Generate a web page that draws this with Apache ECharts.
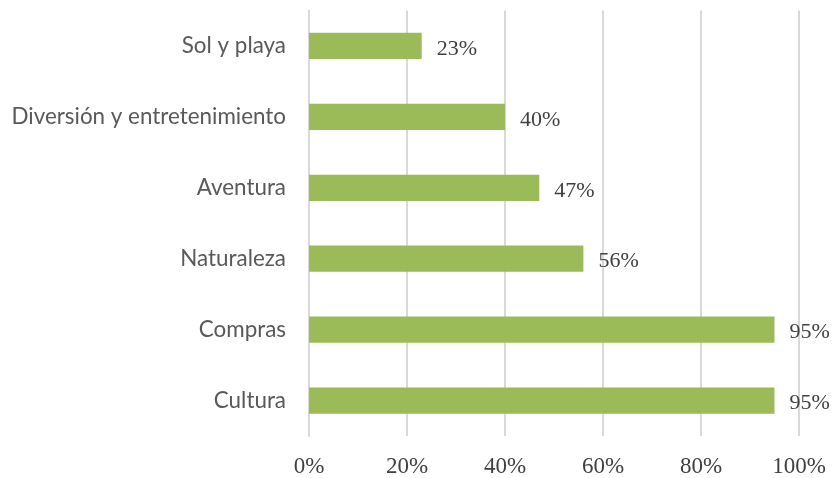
<!DOCTYPE html>
<html>
<head>
<meta charset="utf-8">
<script src="https://cdn.jsdelivr.net/npm/echarts@6/dist/echarts.min.js"></script>
<style>html,body{margin:0;padding:0;background:#fff}#c{width:832px;height:478px}</style>
</head>
<body>
<div id="c"></div>
<script>
const categories = ["Cultura", "Compras", "Naturaleza", "Aventura", "Diversión y entretenimiento", "Sol y playa"];
const values = [95, 95, 56, 47, 40, 23];
const xTicks = [0, 20, 40, 60, 80, 100];

const chart = echarts.init(document.getElementById('c'), null, {renderer: 'canvas'});
chart.setOption({
  animation: false,
  backgroundColor: '#ffffff',
  grid: {left: 309, right: 33, top: 10.5, bottom: 41.5, containLabel: false},
  xAxis: {
    type: 'value', min: xTicks[0], max: xTicks[xTicks.length - 1], interval: 20,
    axisLine: {show: false}, axisTick: {show: false},
    splitLine: {show: true, lineStyle: {color: '#d9d9d9', width: 2}},
    axisLabel: {formatter: v => v + '%', color: '#404040', fontFamily: 'Liberation Serif', fontSize: 23, margin: 19}
  },
  yAxis: {
    type: 'category', data: categories,
    axisLine: {show: true, lineStyle: {color: '#d9d9d9', width: 2}},
    axisTick: {show: false},
    axisLabel: {color: '#595959', fontFamily: 'Lato', fontSize: 22.4, margin: 23}
  },
  series: [{
    type: 'bar', data: values, barWidth: '37%',
    itemStyle: {color: '#9bbb59'},
    label: {show: true, position: 'right', distance: 15, offset: [0, 3], formatter: p => p.value + '%',
      color: '#404040', fontFamily: 'Liberation Serif', fontSize: 22}
  }]
});
</script>
</body>
</html>
